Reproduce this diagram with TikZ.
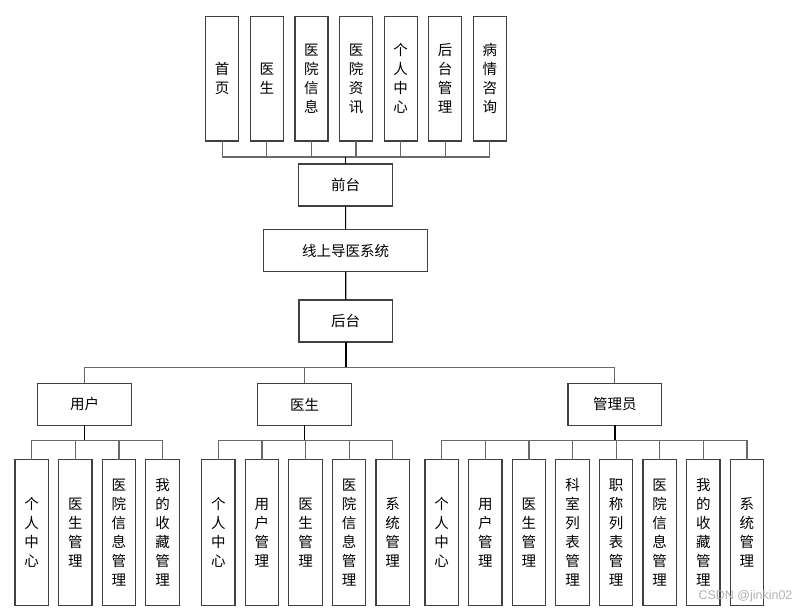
\documentclass[tikz,border=0pt]{standalone}
\usepackage{fontspec}
\newfontfamily\cjk{Noto Sans CJK SC}
\newfontfamily\wmfont{Liberation Sans}
\usetikzlibrary{positioning}
\definecolor{boxline}{RGB}{64,64,64}
\definecolor{linkgray}{RGB}{105,105,105}

\begin{document}
\begin{tikzpicture}[
    x=1pt, y=-1pt,
    node distance=10.3pt,
    box/.style={rectangle, draw=boxline, line width=1.2pt, fill=white, inner sep=0pt, outer sep=0pt, align=center, font=\cjk\fontsize{14.5}{19}\selectfont},
    midbox/.style={box, minimum width=93.5pt, minimum height=42pt},
    topbox/.style={box, minimum width=33pt, minimum height=124.7pt},
    leafbox/.style={box, minimum width=33.3pt, minimum height=145.6pt},
    link/.style={draw=linkgray, line width=1.2pt},
    trunk/.style={draw=black, line width=1.7pt}
]
    \useasboundingbox (0,0) rectangle (810,613);

    % Front pages
    \node[topbox] (shouye) at (222.2,78.7) {首\\页};
    \node[topbox, right=11.6pt of shouye] (yisheng) {医\\生};
    \node[topbox, right=11.6pt of yisheng] (yyxx) {医\\院\\信\\息};
    \node[topbox, right=11.6pt of yyxx] (yyzx) {医\\院\\资\\讯};
    \node[topbox, right=11.6pt of yyzx] (grzx) {个\\人\\中\\心};
    \node[topbox, right=11.6pt of grzx] (htgl) {后\\台\\管\\理};
    \node[topbox, right=11.6pt of htgl] (bqzx) {病\\情\\咨\\询};

    % Main column
    \node[midbox] (qiantai) at (345.5,185) {前台};
    \node[midbox, minimum width=164pt] (xitong) at (345.7,250.8) {线上导医系统};
    \node[midbox] (houtai) at (345.7,321) {后台};

    % Roles
    \node[midbox] (yonghu) at (84.5,404.3) {用户};
    \node[midbox] (doctor) at (304.5,404.3) {医生};
    \node[midbox] (admin) at (614.8,404.3) {管理员};

    % User functions
    \node[leafbox] (u1) at (31.7,532.5) {个\\人\\中\\心};
    \node[leafbox, right=of u1] (u2) {医\\生\\管\\理};
    \node[leafbox, right=of u2] (u3) {医\\院\\信\\息\\管\\理};
    \node[leafbox, right=of u3] (u4) {我\\的\\收\\藏\\管\\理};

    % Doctor functions
    \node[leafbox] (d1) at (218.3,532.5) {个\\人\\中\\心};
    \node[leafbox, right=of d1] (d2) {用\\户\\管\\理};
    \node[leafbox, right=of d2] (d3) {医\\生\\管\\理};
    \node[leafbox, right=of d3] (d4) {医\\院\\信\\息\\管\\理};
    \node[leafbox, right=of d4] (d5) {系\\统\\管\\理};

    % Admin functions
    \node[leafbox] (a1) at (441.7,532.5) {个\\人\\中\\心};
    \node[leafbox, right=of a1] (a2) {用\\户\\管\\理};
    \node[leafbox, right=of a2] (a3) {医\\生\\管\\理};
    \node[leafbox, right=of a3] (a4) {科\\室\\列\\表\\管\\理};
    \node[leafbox, right=of a4] (a5) {职\\称\\列\\表\\管\\理};
    \node[leafbox, right=of a5] (a6) {医\\院\\信\\息\\管\\理};
    \node[leafbox, right=of a6] (a7) {我\\的\\收\\藏\\管\\理};
    \node[leafbox, right=of a7] (a8) {系\\统\\管\\理};

    % Bus points
    \coordinate (busA) at (345.5,157);
    \coordinate (busB) at (345.7,367.7);
    \coordinate (busU) at ([yshift=-15pt]yonghu.south);
    \coordinate (busD) at ([yshift=-15pt]doctor.south);
    \coordinate (busM) at ([yshift=-15pt]admin.south);

    % Edges
    \draw[link] (shouye.south) |- (busA) (yisheng.south) |- (busA) (yyxx.south) |- (busA)
        (yyzx.south) |- (busA) (grzx.south) |- (busA) (htgl.south) |- (busA) (bqzx.south) |- (busA);
    \draw[trunk] (busA) -- (qiantai.north);
    \draw[black, line width=1.1pt] (qiantai) -- (xitong) (xitong) -- (houtai);
    \draw[trunk] (houtai.south) -- (busB);
    \draw[link] (yonghu.north) |- (busB) (doctor.north) |- (busB) (admin.north) |- (busB);

    \draw[trunk] (yonghu.south) -- (busU);
    \draw[link] (u1.north) |- (busU) (u2.north) |- (busU) (u3.north) |- (busU) (u4.north) |- (busU);
    \draw[trunk] (doctor.south) -- (busD);
    \draw[link] (d1.north) |- (busD) (d2.north) |- (busD) (d3.north) |- (busD)
        (d4.north) |- (busD) (d5.north) |- (busD);
    \draw[trunk] (admin.south) -- (busM);
    \draw[link] (a1.north) |- (busM) (a2.north) |- (busM) (a3.north) |- (busM) (a4.north) |- (busM)
        (a5.north) |- (busM) (a6.north) |- (busM) (a7.north) |- (busM) (a8.north) |- (busM);

    % Watermark
    \node[font=\wmfont\fontsize{12.5}{14}\selectfont, text=black!30, anchor=east] (mark) at (796,596) {CSDN @jinkin02};
\end{tikzpicture}
\end{document}
